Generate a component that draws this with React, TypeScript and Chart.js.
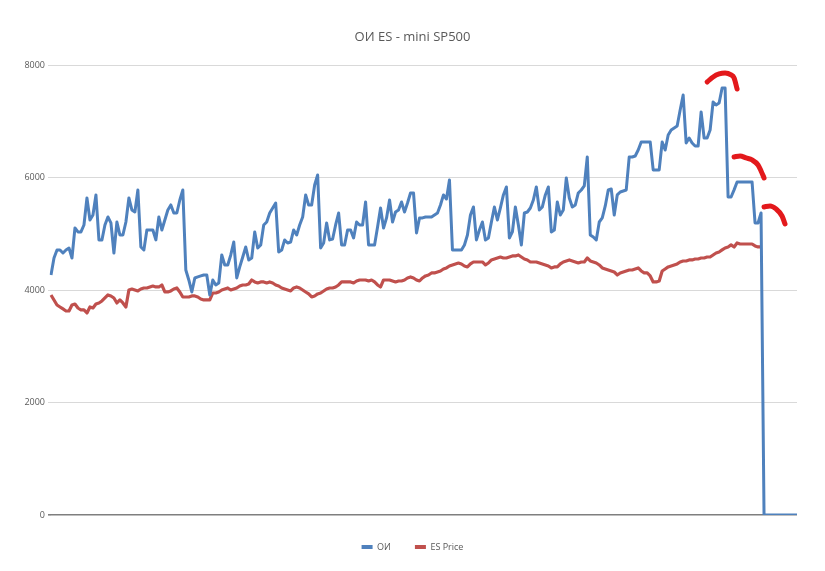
import React, { useEffect, useRef } from "react";
import { Chart, registerables } from "chart.js";

Chart.register(...registerables);

// ОИ (open interest) series, one value per category
const oi: number[] = [
  4267, 4569, 4712, 4712, 4658, 4712, 4747, 4569, 5103, 5032,
  5032, 5156, 5636, 5245, 5334, 5690, 4890, 4890, 5156, 5298,
  5192, 4658, 5209, 4978, 4978, 5209, 5636, 5423, 5387, 5778,
  4765, 4712, 5067, 5067, 5067, 4890, 5298, 5067, 5245, 5423,
  5512, 5369, 5369, 5600, 5778, 4356, 4178, 3965, 4214, 4232,
  4250, 4267, 4267, 3912, 4178, 4089, 4125, 4623, 4445, 4445,
  4623, 4854, 4214, 4410, 4587, 4765, 4534, 4569, 5032, 4747,
  4801, 5156, 5209, 5369, 5458, 5547, 4676, 4712, 4890, 4836,
  4854, 5067, 4978, 5156, 5298, 5690, 5512, 5512, 5867, 6045,
  4747, 4836, 5192, 4890, 4907, 5156, 5369, 4801, 4801, 5067,
  5067, 4925, 5209, 5156, 5156, 5565, 4801, 4801, 4801, 5120,
  5458, 5103, 5281, 5600, 5209, 5387, 5423, 5565, 5387, 5547,
  5725, 5725, 5014, 5281, 5281, 5298, 5298, 5298, 5334, 5369,
  5512, 5690, 5618, 5956, 4712, 4712, 4712, 4712, 4801, 4978,
  5334, 5476, 4890, 5067, 5209, 4890, 4925, 5209, 5476, 5245,
  5458, 5690, 5832, 4925, 5032, 5476, 5156, 4801, 5369, 5387,
  5458, 5600, 5832, 5423, 5476, 5690, 5832, 5032, 5067, 5565,
  5334, 5423, 5992, 5636, 5476, 5512, 5725, 5778, 5850, 6365,
  4978, 4943, 4890, 5209, 5281, 5494, 5778, 5796, 5334, 5690,
  5743, 5760, 5778, 6365, 6365, 6383, 6489, 6632, 6632, 6632,
  6632, 6134, 6134, 6134, 6632, 6489, 6756, 6845, 6881, 6916,
  7201, 7467, 6614, 6703, 6614, 6560, 6560, 7165, 6703, 6703,
  6845, 7343, 7290, 7325, 7592, 7592, 5654, 5654, 5780, 5921,
  5921, 5921, 5921, 5921, 5921, 5192, 5192, 5369, 0, 0,
  0, 0, 0, 0, 0, 0, 0, 0, 0, 0,
];

// ES Price series
const esPrice: (number | null)[] = [
  3912, 3823, 3734, 3698, 3663, 3627, 3627, 3734, 3751, 3680,
  3645, 3645, 3592, 3698, 3680, 3751, 3769, 3805, 3858, 3912,
  3894, 3858, 3769, 3823, 3769, 3698, 4000, 4018, 4000, 3983,
  4018, 4036, 4036, 4054, 4071, 4054, 4054, 4089, 3965, 3965,
  3983, 4018, 4036, 3965, 3876, 3876, 3876, 3894, 3894, 3876,
  3840, 3823, 3823, 3823, 3947, 3947, 3965, 4000, 4018, 4036,
  4000, 4018, 4036, 4071, 4089, 4089, 4107, 4178, 4143, 4125,
  4143, 4143, 4125, 4143, 4125, 4089, 4071, 4036, 4018, 4000,
  3983, 4036, 4054, 4036, 4000, 3965, 3930, 3876, 3894, 3930,
  3947, 3983, 4018, 4036, 4036, 4054, 4089, 4143, 4143, 4143,
  4143, 4125, 4160, 4178, 4178, 4178, 4160, 4178, 4143, 4089,
  4054, 4178, 4178, 4178, 4160, 4143, 4160, 4160, 4178, 4214,
  4232, 4214, 4178, 4160, 4214, 4250, 4267, 4303, 4303, 4320,
  4338, 4374, 4392, 4427, 4445, 4463, 4480, 4463, 4427, 4410,
  4463, 4498, 4498, 4498, 4498, 4445, 4480, 4534, 4551, 4569,
  4587, 4569, 4569, 4587, 4605, 4605, 4623, 4587, 4551, 4534,
  4498, 4498, 4498, 4480, 4463, 4445, 4427, 4392, 4410, 4410,
  4463, 4498, 4516, 4534, 4516, 4498, 4480, 4498, 4498, 4569,
  4516, 4498, 4480, 4445, 4392, 4374, 4356, 4338, 4320, 4267,
  4303, 4320, 4338, 4356, 4356, 4374, 4392, 4338, 4303, 4303,
  4250, 4143, 4143, 4160, 4338, 4374, 4410, 4427, 4445, 4463,
  4498, 4516, 4516, 4534, 4534, 4551, 4551, 4569, 4569, 4587,
  4587, 4623, 4658, 4676, 4712, 4747, 4765, 4801, 4765, 4836,
  4818, 4818, 4818, 4818, 4818, 4783, 4765, 4765, null, null,
  null, null, null, null, null, null, null, null, null, null,
];

// hand-drawn red marks on the picture: [category index, value]
const mark1: [number, number][] = [
  [219, 7698], [221, 7787], [223, 7841], [225, 7858], [227, 7823], [228, 7770], [229, 7574],
];
const mark2: [number, number][] = [
  [228, 6365], [230, 6383], [232, 6347], [234, 6312], [236, 6223], [237, 6116], [238, 5992],
];
const mark3: [number, number][] = [
  [238, 5476], [240, 5494], [242, 5441], [244, 5316], [245, 5174],
];

const yTicks = [0, 2000, 4000, 6000, 8000];
const seriesNames = ["ОИ", "ES Price"];
const titleText = "ОИ ES - mini SP500";

const labels: string[] = oi.map((_, i) => String(i + 1));

function sparse(points: [number, number][]): (number | null)[] {
  const arr: (number | null)[] = labels.map(() => null);
  points.forEach(([i, v]) => {
    arr[i] = v;
  });
  return arr;
}

const FONT = "'Open Sans', 'Noto Sans', sans-serif";
const BLUE = "#4F81BD";
const RED = "#C0504D";
const MARK = "#E3191C";

export default function App() {
  const ref = useRef<HTMLCanvasElement | null>(null);

  useEffect(() => {
    if (!ref.current) return;
    const markDs = (pts: [number, number][]) => ({
      label: "mark",
      data: sparse(pts),
      borderColor: MARK,
      backgroundColor: MARK,
      borderWidth: 5,
      borderCapStyle: "round" as const,
      borderJoinStyle: "round" as const,
      pointRadius: 0,
      spanGaps: true,
      cubicInterpolationMode: "monotone" as const,
      order: -1,
    });
    const chart = new Chart(ref.current, {
      type: "line",
      data: {
        labels,
        datasets: [
          {
            label: seriesNames[0],
            data: oi,
            borderColor: BLUE,
            backgroundColor: BLUE,
            borderWidth: 3,
            borderJoinStyle: "round",
            pointRadius: 0,
            tension: 0,
          },
          {
            label: seriesNames[1],
            data: esPrice,
            borderColor: RED,
            backgroundColor: RED,
            borderWidth: 3.2,
            borderJoinStyle: "round",
            pointRadius: 0,
            tension: 0,
          },
          markDs(mark1),
          markDs(mark2),
          markDs(mark3),
        ],
      },
      options: {
        animation: false,
        responsive: false,
        maintainAspectRatio: false,
        events: [],
        layout: { padding: { left: 0, right: 0, top: 0, bottom: 9.5 } },
        plugins: {
          title: {
            display: true,
            text: titleText,
            color: "#595959",
            font: { family: FONT, size: 13, weight: "normal" },
            padding: { top: 29, bottom: 20.4 },
          },
          legend: {
            position: "bottom",
            labels: {
              boxWidth: 11,
              boxHeight: 4,
              padding: 24,
              color: "#595959",
              font: { family: FONT, size: 9 },
              generateLabels: (c: any) =>
                Chart.defaults.plugins.legend.labels
                  .generateLabels(c)
                  .filter((it: any) => it.datasetIndex < 2)
                  .map((it: any) => ({ ...it, lineWidth: 0 })),
            },
          },
          tooltip: { enabled: false },
        },
        scales: {
          x: {
            ticks: { display: false },
            grid: { display: false },
            border: { display: false },
            afterFit: (s: any) => {
              s.height = 3.5;
            },
          },
          y: {
            min: 0,
            max: 8000,
            afterBuildTicks: (s: any) => {
              s.ticks = yTicks.map((v) => ({ value: v }));
            },
            ticks: {
              color: "#595959",
              font: { family: FONT, size: 9 },
              padding: 3,
              callback: (v: any) => String(v),
            },
            grid: {
              color: (ctx: any) => (ctx.tick && ctx.tick.value === 0 ? "#7f7f7f" : "#d9d9d9"),
              lineWidth: (ctx: any) => (ctx.tick && ctx.tick.value === 0 ? 1.6 : 1),
              tickLength: 3,
            },
            border: { display: false },
            afterFit: (s: any) => {
              s.width = 51;
            },
          },
          yRightSpace: {
            position: "right",
            display: true,
            ticks: { display: false },
            grid: { display: false },
            border: { display: false },
            afterFit: (s: any) => {
              s.width = 28;
            },
          },
        },
      },
    });
    return () => chart.destroy();
  }, []);

  return (
    <div
      style={{
        position: "fixed",
        left: 0,
        top: 0,
        width: 825,
        height: 571,
        background: "#ffffff",
      }}
    >
      <canvas ref={ref} width={825} height={571} style={{ display: "block" }} />
    </div>
  );
}
